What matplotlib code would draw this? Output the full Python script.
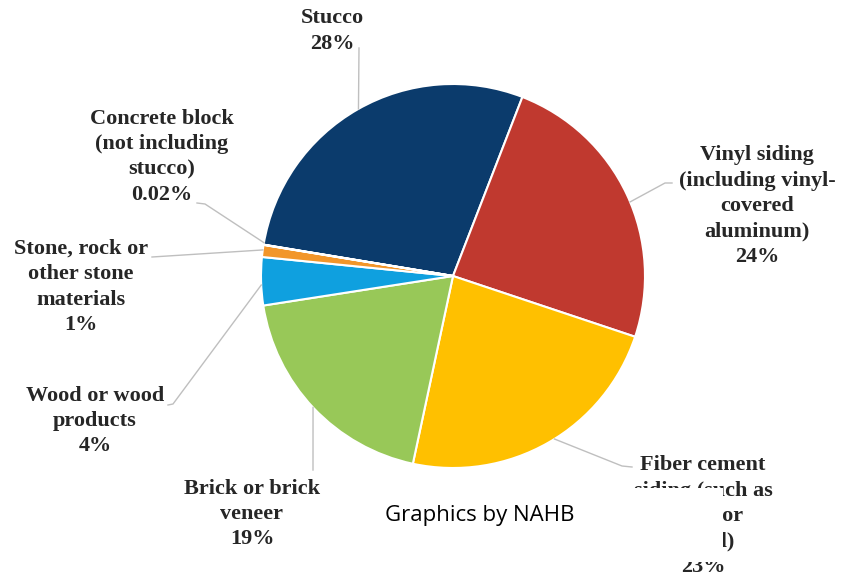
import numpy as np
import matplotlib.pyplot as plt
from matplotlib.patches import Rectangle

# data
categories = ["Stucco", "Vinyl siding\n(including vinyl-\ncovered\naluminum)",
              "Fiber cement\nsiding (such as\nplank or\nboard)",
              "Brick or brick\nveneer", "Wood or wood\nproducts",
              "Stone, rock or\nother stone\nmaterials",
              "Concrete block\n(not including\nstucco)"]
shares = [28, 24, 23, 19, 4, 1, 0.02]
colors = ["#0B3B6C", "#C0392F", "#FFC000", "#98C858", "#0FA0DF", "#F2962A", "#7F7F7F"]

# layout (pixel units, y down)
cx, cy, r = 453, 276, 192
text_pos = [(332, 31), (757, 206), (703, 516), (252, 514), (95, 421), (81, 287), (162, 157)]
# leader: text-side points, then angle (screen, ccw deg) where it meets the pie
leaders = [([(359, 48)], 119.5),
           ([(672, 183), (665, 183)], 22.7),
           ([(632, 467), (622, 466)], -58.1),
           ([(313, 470)], 223.2),
           ([(168, 405), (173, 404)], 182.7),
           ([(152, 257)], 172.2),
           ([(197, 203), (205, 204)], 170.0)]

fig = plt.figure(figsize=(8.43, 5.73), dpi=100)
ax = fig.add_axes([0, 0, 1, 1])

# y axis is flipped, so angles are mirrored
ax.pie(shares, colors=colors, center=(cx, cy), radius=r, startangle=-170.6,
       counterclock=True, frame=True,
       wedgeprops=dict(edgecolor="white", linewidth=1.5))
ax.set_xlim(0, 843)
ax.set_ylim(573, 0)
ax.set_aspect("equal")
ax.axis("off")

for (pts, ang) in leaders:
    px = cx + r * np.cos(np.radians(ang))
    py = cy - r * np.sin(np.radians(ang))
    xs = [p[0] for p in pts] + [px]
    ys = [p[1] for p in pts] + [py]
    ax.plot(xs, ys, color="#BFBFBF", lw=1, zorder=1)

serif = ["Liberation Serif", "DejaVu Serif"]
for name, v, (tx, ty) in zip(categories, shares, text_pos):
    ax.text(tx, ty, f"{name}\n{v:g}%", ha="center", va="center",
            family=serif, fontweight="bold", fontsize=16,
            linespacing=1.36, color="#262626", zorder=3)

# credit box lying over part of the fiber cement label
ax.add_patch(Rectangle((360, 488), 363, 74, facecolor="white", edgecolor="none", zorder=5))
ax.text(480, 516, "Graphics by NAHB", ha="center", va="center",
        family=["Open Sans", "DejaVu Sans"], fontsize=16, color="black", zorder=6)

fig.savefig("out.png", dpi=100)
